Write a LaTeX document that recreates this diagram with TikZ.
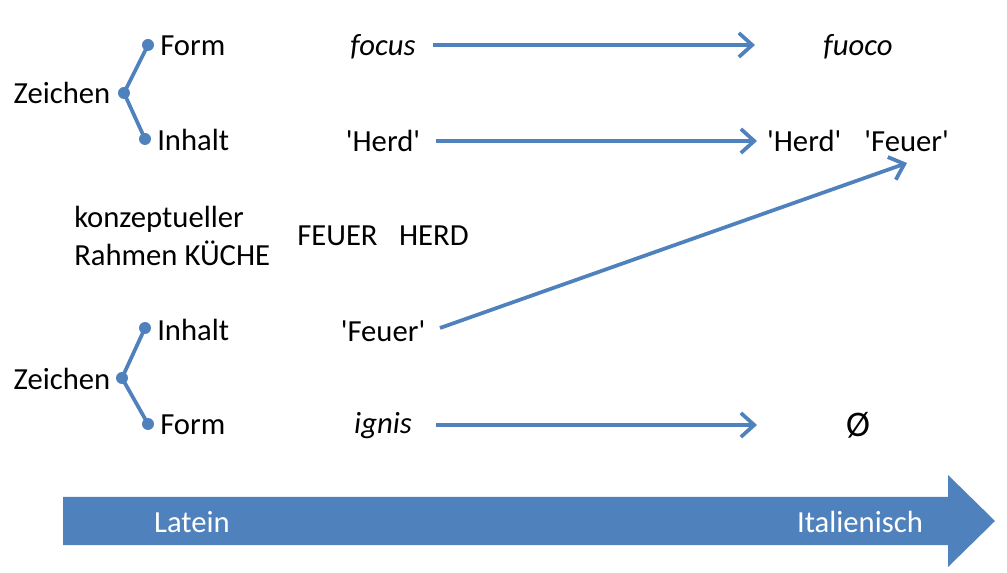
\documentclass[tikz,border=0pt]{standalone}
\usepackage{fontspec}
\setmainfont{Carlito}
\usetikzlibrary{arrows.meta}
\definecolor{oblue}{HTML}{4F81BD}
\newcommand\sq{\XeTeXglyph\XeTeXcharglyph"27\relax}
\tikzset{
  txt/.style={inner sep=0pt, font=\fontsize{23}{27}\selectfont},
  dot/.style={circle, fill=oblue, inner sep=0pt, minimum size=9pt},
  tree/.style={draw=oblue, line width=2.8pt},
  conn/.style={draw=oblue, line width=2.8pt, -{Straight Barb[length=10pt,width=18pt,line width=2.8pt]}},
}
\begin{document}
\begin{tikzpicture}[x=0.75pt,y=-0.75pt]
\useasboundingbox (0,0) rectangle (1007,573);
% top sign
\node[txt] (z1) at (62,93) {Zeichen};
\node[dot] (z1d) at (124,93) {};
\node[dot] (f1d) at (148,45) {};
\node[dot] (i1d) at (145,139) {};
\node[txt, anchor=west] (f1) at (160,46) {Form};
\node[txt, anchor=west] (i1) at (157,140) {Inhalt};
\draw[tree] (f1d.center) -- (z1d.center) -- (i1d.center);
% bottom sign
\node[txt] (z2) at (62,379) {Zeichen};
\node[dot] (z2d) at (122,378) {};
\node[dot] (i2d) at (145,328) {};
\node[dot] (f2d) at (148,424) {};
\node[txt, anchor=west] (i2) at (157,330) {Inhalt};
\node[txt, anchor=west] (f2) at (160,425) {Form};
\draw[tree] (i2d.center) -- (z2d.center) -- (f2d.center);
% words
\node[txt] (focus) at (383,47) {\itshape focus};
\node[txt] (fuoco) at (858,47) {\itshape fuoco};
\node[txt] (herd) at (383,141) {\sq Herd\sq};
\node[txt] (herdfeuer) at (858,141) {\sq Herd\sq\hspace{0.75em}\sq Feuer\sq};
\node[txt, anchor=west, align=left] (rahmen) at (74,236) {konzeptueller\\[2pt]Rahmen KÜCHE};
\node[txt] (feuerherd) at (383,236) {FEUER\hspace{0.7em}HERD};
\node[txt] (feuer) at (383,331) {\sq Feuer\sq};
\node[txt] (ignis) at (383,426) {\itshape ignis};
\node[txt] (null) at (858,425) {\fontsize{27}{30}\selectfont Ø};
% connector ends
\coordinate (s1) at (433,45);  \coordinate (t1) at (755,45);
\coordinate (s2) at (436,141); \coordinate (t2) at (757,141);
\coordinate (s3) at (440,328); \coordinate (t3) at (907,163);
\coordinate (s4) at (436,425); \coordinate (t4) at (757,425);
\draw[conn] (s1) -- (t1);
\draw[conn] (s2) -- (t2);
\draw[conn] (s3) -- (t3);
\draw[conn] (s4) -- (t4);
% timeline arrow
\fill[oblue] (63,497) -- (948,497) -- (948,475) -- (995,521) -- (948,567) -- (948,545) -- (63,545) -- cycle;
\node[txt, text=white] (latein) at (192,522) {Latein};
\node[txt, text=white] (ital) at (860,522) {Italienisch};
\end{tikzpicture}
\end{document}
